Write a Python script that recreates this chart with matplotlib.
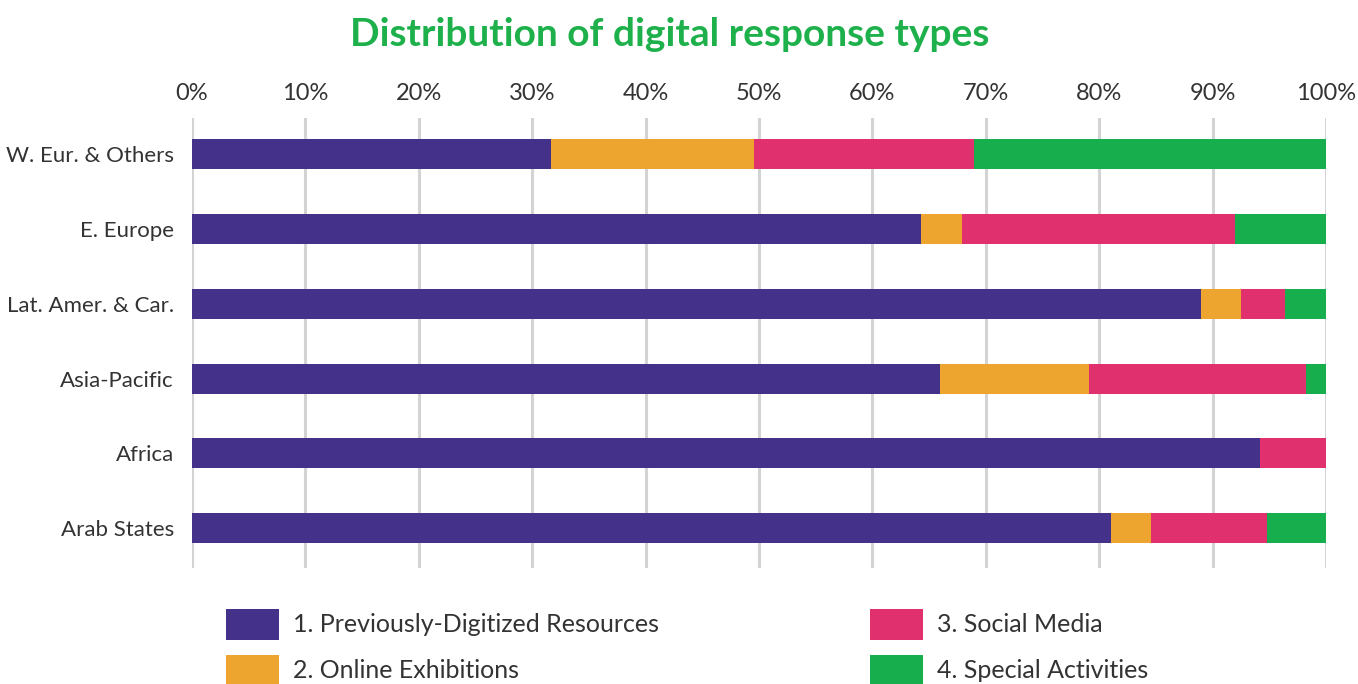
import matplotlib
matplotlib.use("Agg")
from matplotlib import pyplot as plt
import numpy as np

regions = ["W. Eur. & Others", "E. Europe", "Lat. Amer. & Car.",
           "Asia-Pacific", "Africa", "Arab States"]
series = ["1. Previously-Digitized Resources", "2. Online Exhibitions",
          "3. Social Media", "4. Special Activities"]
digitized = [31.7, 64.3, 89.0, 66.0, 94.2, 81.0]
exhibitions = [17.9, 3.6, 3.5, 13.1, 0.0, 3.6]
social = [19.4, 24.1, 3.9, 19.1, 5.8, 10.2]
special = [31.0, 8.0, 3.6, 1.8, 0.0, 5.2]
ticks = [0, 10, 20, 30, 40, 50, 60, 70, 80, 90, 100]
tick_labels = ["0%", "10%", "20%", "30%", "40%", "50%", "60%", "70%", "80%", "90%", "100%"]

colors = ["#44318A", "#EDA530", "#E0306E", "#17AF4D"]

plt.rcParams['font.family'] = ['Lato', 'DejaVu Sans']

fig = plt.figure(figsize=(13.58, 6.84), dpi=100)
ax = fig.add_axes([192/1358, (684-568)/684, (1326-192)/1358, 450/684])

y = np.arange(len(regions))
left = np.zeros(len(regions))
bars = []
for vals, c, name in zip([digitized, exhibitions, social, special], colors, series):
    b = ax.barh(y, vals, left=left, height=0.4, color=c, label=name, zorder=3)
    bars.append(b)
    left += np.array(vals)

ax.set_xlim(0, 100)
ax.set_ylim(5.53, -0.48)
ax.set_yticks(y)
ax.set_yticklabels(regions, fontsize=16, color="#333333")
ax.xaxis.tick_top()
ax.set_xticks(ticks)
ax.set_xticklabels(tick_labels, fontsize=17, color="#333333")
ax.tick_params(axis='both', length=0)
ax.tick_params(axis='x', pad=10)
ax.tick_params(axis='y', pad=13)
ax.grid(axis='x', color="#D3D3D3", linewidth=2.2, zorder=0)
for s in ax.spines.values():
    s.set_visible(False)

fig.text(0.493, 0.950, "Distribution of digital response types", ha='center', va='center',
         fontsize=28, fontweight='bold', color="#1DB04B")

kw = dict(loc='upper left', frameon=False, fontsize=18, handlelength=2.12,
          handleheight=1.5, handletextpad=0.55, labelspacing=0.6, borderaxespad=0,
          borderpad=0, labelcolor="#333333")
fig.legend(bars[:2], series[:2], bbox_to_anchor=(226/1358, 1 - 609/684), **kw)
fig.legend(bars[2:], series[2:], bbox_to_anchor=(870/1358, 1 - 609/684), **kw)

fig.savefig("out.png", dpi=100)
